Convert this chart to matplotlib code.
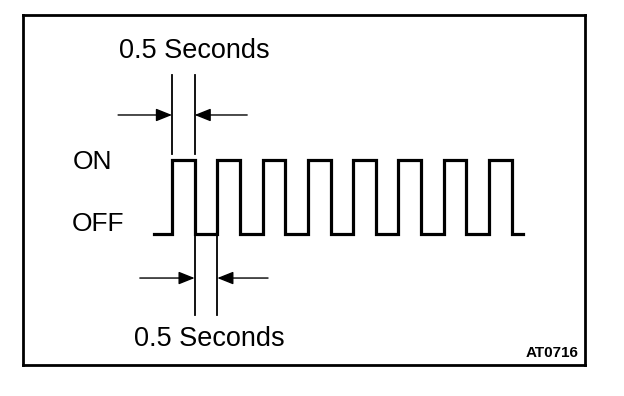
import matplotlib
matplotlib.use("Agg")
import matplotlib.pyplot as plt

# ---- data ----
# square wave: edge times (s) and level after each edge (0 = OFF, 1 = ON)
edge_times = [0.0, 0.4, 0.9, 1.4, 1.9, 2.4, 2.9, 3.4, 3.9, 4.4, 4.9,
              5.4, 5.9, 6.4, 6.9, 7.4, 7.9, 8.15]
levels = [0, 1, 0, 1, 0, 1, 0, 1, 0, 1, 0, 1, 0, 1, 0, 1, 0, 0]
level_labels = ["OFF", "ON"]
# dimension markers (s): ON duration and OFF duration
on_span = [0.4, 0.9]
off_span = [0.9, 1.4]
span_label = "0.5 Seconds"
figure_code = "AT0716"

plt.rcParams['font.family'] = ['Liberation Sans', 'DejaVu Sans']

fig = plt.figure(figsize=(6.24, 3.96), dpi=100)
fig.patch.set_facecolor('white')
ax = fig.add_axes([23 / 624, (396 - 365) / 396, 562 / 624, 350 / 396])
ax.set_xlim(-2.889, 9.517)
ax.set_ylim(-1.770, 2.959)
ax.set_xticks([])
ax.set_yticks([])
for s in ax.spines.values():
    s.set_linewidth(2.0)
    s.set_color('black')

# waveform
ax.plot(edge_times, levels, drawstyle='steps-post', color='black', lw=2.3,
        solid_joinstyle='miter')

# level labels
ax.text(-1.80, 0.88, level_labels[1], fontsize=19, ha='left', va='baseline')
ax.text(-1.82, 0.04, level_labels[0], fontsize=19, ha='left', va='baseline')

arrow_style = '-|>,head_length=0.7,head_width=0.28'

# top dimension (ON time)
for t in on_span:
    ax.plot([t, t], [1.08, 2.15], color='black', lw=1.3)
ax.annotate('', xy=(on_span[0], 1.608), xytext=(-0.79, 1.608),
            arrowprops=dict(arrowstyle=arrow_style, color='black', lw=1,
                            mutation_scale=14, shrinkA=0, shrinkB=0))
ax.annotate('', xy=(on_span[1], 1.608), xytext=(2.06, 1.608),
            arrowprops=dict(arrowstyle=arrow_style, color='black', lw=1,
                            mutation_scale=14, shrinkA=0, shrinkB=0))
ax.text(0.89, 2.378, span_label, fontsize=19.5, ha='center', va='baseline')

# bottom dimension (OFF time)
for t in off_span:
    ax.plot([t, t], [0.0, -1.095], color='black', lw=1.3)
ax.annotate('', xy=(off_span[0], -0.595), xytext=(-0.31, -0.595),
            arrowprops=dict(arrowstyle=arrow_style, color='black', lw=1,
                            mutation_scale=14, shrinkA=0, shrinkB=0))
ax.annotate('', xy=(off_span[1], -0.595), xytext=(2.52, -0.595),
            arrowprops=dict(arrowstyle=arrow_style, color='black', lw=1,
                            mutation_scale=14, shrinkA=0, shrinkB=0))
ax.text(1.22, -1.514, span_label, fontsize=19.5, ha='center', va='baseline')

# figure code
ax.text(0.989, 0.023, figure_code, transform=ax.transAxes, fontsize=11,
        fontweight='bold', ha='right', va='baseline')

fig.savefig('out.png', dpi=100, facecolor='white')
